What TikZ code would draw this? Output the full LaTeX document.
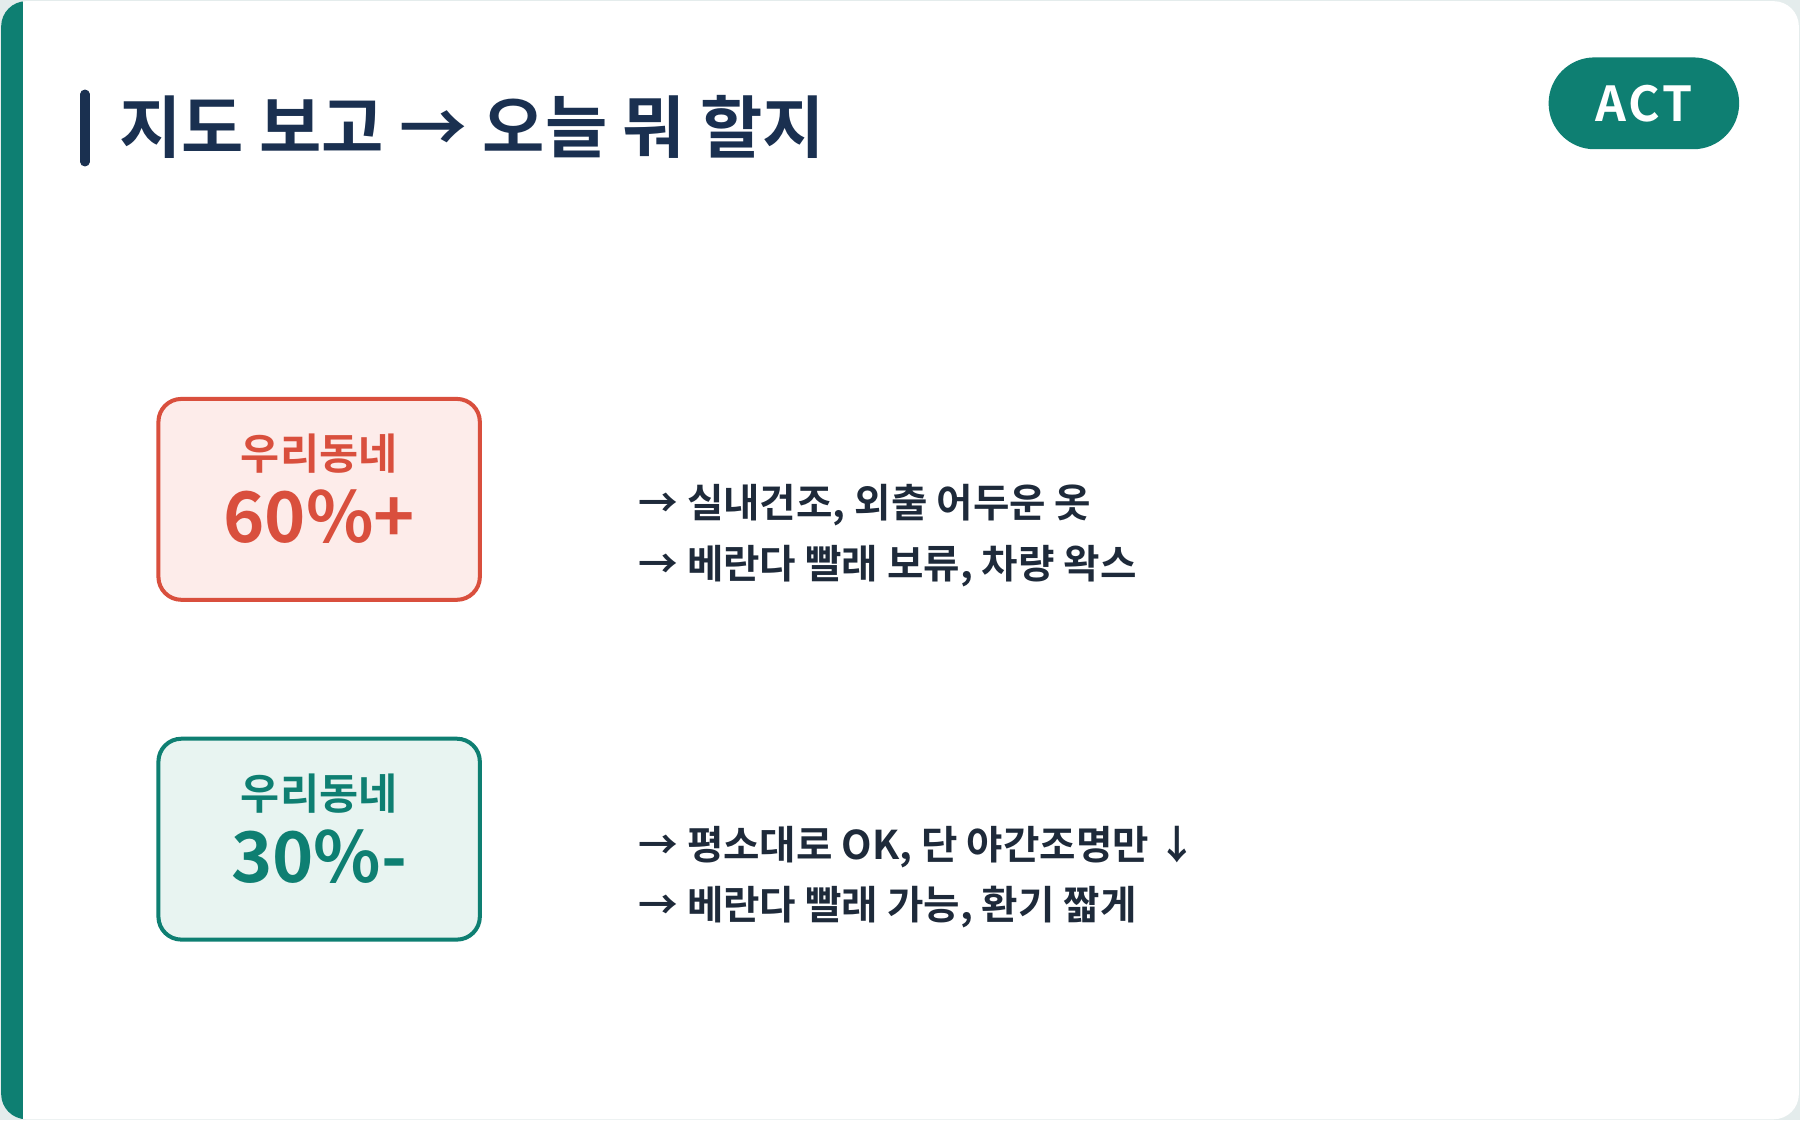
\documentclass[tikz,border=0pt]{standalone}
\usepackage{fontspec}
\setmainfont{Noto Sans CJK KR}[BoldFont={* Bold}]
\definecolor{teal}{HTML}{0E7F72}
\definecolor{navy}{HTML}{1A3050}
\definecolor{redb}{HTML}{D94F3D}
\definecolor{redf}{HTML}{FDECEA}
\definecolor{grnf}{HTML}{E8F4F1}
\definecolor{txt}{HTML}{1E2A3A}
\definecolor{bg}{HTML}{E4ECEC}
\tikzset{
 card/.style={rounded corners=20pt,line width=3.5pt,minimum width=280pt,minimum height=175pt,draw},
 line/.style={anchor=west,font=\fontsize{34.5}{38}\selectfont\bfseries,text=txt,inner sep=0pt},
}
\begin{document}
\begin{tikzpicture}[x=1pt,y=-1pt]
\useasboundingbox (0,0) rectangle (1568,976);
\fill[bg] (0,0) rectangle (1568,976);
\fill[white,rounded corners=22pt] (1,1) rectangle (1567,975);
\begin{scope}
\clip[rounded corners=22pt] (1,1) rectangle (1567,975);
\fill[teal] (0,0) rectangle (20,976);
\end{scope}
\draw[navy,line width=8pt,line cap=round] (74,82) -- (74,141);
\node[anchor=west,inner sep=0pt,text=navy,font=\fontsize{59}{63}\selectfont\bfseries] (title) at (104,111) {지도 보고 → 오늘 뭐 할지};
\node[fill=teal,rounded corners=40pt,minimum width=166pt,minimum height=80pt,text=white,font=\fontsize{42}{46}\selectfont\bfseries] (act) at (1432,90) {A\kern2pt C\kern2pt T};
\node[card,draw=redb,fill=redf] (r) at (278,435) {};
\node[text=redb,font=\fontsize{37}{40}\selectfont\bfseries] (r1) at (278,395) {우리동네};
\node[text=redb,font=\fontsize{61}{64}\selectfont\bfseries] (r2) at (278,450) {60\%+};
\node[card,draw=teal,fill=grnf] (g) at (278,731) {};
\node[text=teal,font=\fontsize{37}{40}\selectfont\bfseries] (g1) at (278,691) {우리동네};
\node[text=teal,font=\fontsize{61}{64}\selectfont\bfseries] (g2) at (278,746) {30\%-};
\node[line] (a1) at (556,440) {→ 실내건조, 외출 어두운 옷};
\node[line] (a2) at (556,493) {→ 베란다 빨래 보류, 차량 왁스};
\node[line] (b1) at (556,738) {→ 평소대로 OK, 단 야간조명만 ↓};
\node[line] (b2) at (556,790) {→ 베란다 빨래 가능, 환기 짧게};
\end{tikzpicture}
\end{document}
